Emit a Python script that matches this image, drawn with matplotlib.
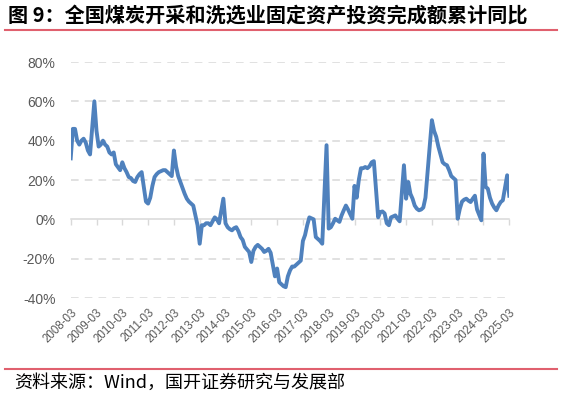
import matplotlib
matplotlib.use("Agg")
import matplotlib.pyplot as plt
from matplotlib.lines import Line2D

title = "图 9：全国煤炭开采和洗选业固定资产投资完成额累计同比"
source = "资料来源：Wind，国开证券研究与发展部"
tick_labels = [f"{y}-03" for y in range(2008, 2026)]
y_ticks = [-40, -20, 0, 20, 40, 60, 80]

# cumulative YoY (%), January not published; each list starts at the first month given
v2008 = [31, 46, 46, 40, 38, 40, 41, 39, 35, 33]            # Mar-Dec
v2009 = [60, 45, 37, 38, 40, 38, 37, 34, 33, 34, 28]        # Feb-Dec
v2010 = [25, 29, 26, 24, 21.5, 21, 19.5, 19, 21.5, 23, 24]
v2011 = [9, 8, 11, 17, 21.5, 23, 24, 24.5, 25, 25, 24]
v2012 = [22, 35, 27, 22, 19, 16, 13, 10.5, 9, 8, 7]
v2013 = [-3, -12.4, -3, -3, -2, -2, -3, -1, 1, 0, -2]
v2014 = [10.5, -2, -4, -5, -5.6, -4.5, -4, -6, -9, -10.5, -14]
v2015 = [-16.6, -21.7, -16, -14, -13, -14, -15, -16.6, -16, -15, -17]
v2016 = [-29, -25, -32, -33, -34, -34.5, -29, -26, -24, -24, -23]
v2017 = [-21, -11, -8, -3, 1, 0.5, 0, -9, -10, -11, -12.4]
v2018 = [37.7, -4.7, -4, -2, 0.3, -0.5, -1.3, 2, 4.6, 7, 5]
v2019 = [0.3, 17, 11, 20, 26, 26, 26.6, 26, 27, 29, 29.6]
v2020 = [1, 3.7, 4, 3, -2, -3, 1, 1.5, 2, 0.3, -1]
v2021 = [27.5, 10.5, 19, 13, 10.5, 7, 5.4, 4.6, 5, 6, 11]
v2022 = [37, 50.4, 45, 42, 37, 33, 29, 28, 27.5, 25, 22]
v2023 = [20, 0.3, 5.4, 9, 10, 10.5, 9.5, 8.8, 10.5, 12, 5]
v2024 = [-0.5, 33.4, 16.5, 15.6, 11, 8, 6, 4.6, 7, 8.8, 9.7]
v2025 = [22.4, 12]                                          # Feb-Mar

series = [(2008, 3, v2008), (2009, 2, v2009), (2010, 2, v2010), (2011, 2, v2011),
          (2012, 2, v2012), (2013, 2, v2013), (2014, 2, v2014), (2015, 2, v2015),
          (2016, 2, v2016), (2017, 2, v2017), (2018, 2, v2018), (2019, 2, v2019),
          (2020, 2, v2020), (2021, 2, v2021), (2022, 2, v2022), (2023, 2, v2023),
          (2024, 2, v2024), (2025, 2, v2025)]

xs, ys = [], []
for year, m0, vals in series:
    for i, v in enumerate(vals):
        xs.append((year - 2008) * 12 + (m0 + i - 3))
        ys.append(v)

W, H = 563, 396
fig = plt.figure(figsize=(W / 100, H / 100), dpi=100)
ax = fig.add_axes([70.7 / W, 98 / H, 438.6 / W, 236 / H])

grid_c = "#D9D9D9"
for v in y_ticks:
    if v == 0:
        continue
    ax.axhline(v, color=grid_c, lw=1.1, ls=(0, (5, 4)), zorder=1)

ax.plot(xs, ys, color="#4F81BD", lw=2.8, solid_joinstyle="round", zorder=3)

ax.set_xlim(0, 204)
ax.set_ylim(-40, 80)
for s in ["top", "right", "left"]:
    ax.spines[s].set_visible(False)
ax.spines["bottom"].set_position(("data", 0))
ax.spines["bottom"].set_color(grid_c)
ax.spines["bottom"].set_linewidth(1.1)
ax.spines["bottom"].set_zorder(2)

tick_pos = [12 * i for i in range(len(tick_labels))]
ax.set_xticks(tick_pos)
ax.tick_params(axis="x", direction="out", length=4, width=1, color=grid_c, labelbottom=False)

ax.set_yticks(y_ticks, labels=[f"{v}%" for v in y_ticks])
ax.tick_params(axis="y", length=0, pad=11, labelsize=10, labelcolor="#595959")
for lab in ax.get_yticklabels():
    lab.set_family(["Liberation Sans", "DejaVu Sans"])

sec = ax.secondary_xaxis("bottom")
sec.set_xticks(tick_pos, labels=tick_labels)
sec.tick_params(length=0, pad=6, labelsize=8.3, labelcolor="#595959")
sec.spines["bottom"].set_visible(False)
for lab in sec.get_xticklabels():
    lab.set_rotation(45)
    lab.set_ha("right")
    lab.set_va("top")
    lab.set_rotation_mode("anchor")
    lab.set_family(["Liberation Sans", "DejaVu Sans"])

cjk = ["Noto Sans CJK SC", "DejaVu Sans"]
fig.text(8 / W, 1 - 15 / H, title, fontsize=14.5, fontweight="bold", family=cjk,
         ha="left", va="center")
fig.add_artist(Line2D([5 / W, 557 / W], [1 - 29.5 / H] * 2, color="#E0606E", lw=1.5))
fig.add_artist(Line2D([5 / W, 557 / W], [1 - 369 / H] * 2, color="#E0606E", lw=1.5))
fig.text(14 / W, 1 - 383 / H, source, fontsize=13, family=cjk, ha="left", va="center")

fig.savefig("out.png", dpi=100)
